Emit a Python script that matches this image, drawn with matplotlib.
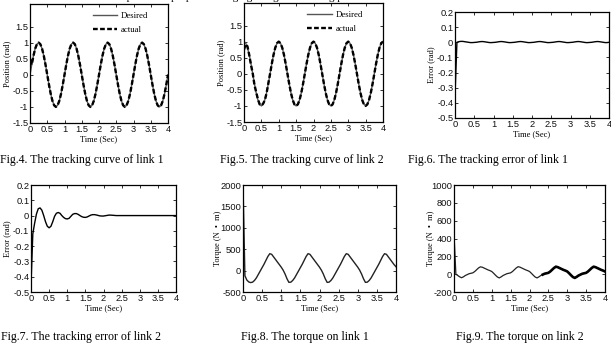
import numpy as np
import matplotlib
matplotlib.use("Agg")
import matplotlib.pyplot as plt

# ---------------- data ----------------
time = np.linspace(0, 4, 81)  # 0.05 s grid

desired1 = [0, 0.31, 0.59, 0.81, 0.95, 1.0, 0.95, 0.81, 0.59, 0.31,
            0, -0.31, -0.59, -0.81, -0.95, -1.0, -0.95, -0.81, -0.59, -0.31,
            0, 0.31, 0.59, 0.81, 0.95, 1.0, 0.95, 0.81, 0.59, 0.31,
            0, -0.31, -0.59, -0.81, -0.95, -1.0, -0.95, -0.81, -0.59, -0.31,
            0, 0.31, 0.59, 0.81, 0.95, 1.0, 0.95, 0.81, 0.59, 0.31,
            0, -0.31, -0.59, -0.81, -0.95, -1.0, -0.95, -0.81, -0.59, -0.31,
            0, 0.31, 0.59, 0.81, 0.95, 1.0, 0.95, 0.81, 0.59, 0.31,
            0, -0.31, -0.59, -0.81, -0.95, -1.0, -0.95, -0.81, -0.59, -0.31,
            0]
actual1 = [0.45, 0.31, 0.59, 0.81, 0.95, 1.0, 0.95, 0.81, 0.59, 0.31,
           0, -0.31, -0.59, -0.81, -0.95, -1.0, -0.95, -0.81, -0.59, -0.31,
           0, 0.31, 0.59, 0.81, 0.95, 1.0, 0.95, 0.81, 0.59, 0.31,
           0, -0.31, -0.59, -0.81, -0.95, -1.0, -0.95, -0.81, -0.59, -0.31,
           0, 0.31, 0.59, 0.81, 0.95, 1.0, 0.95, 0.81, 0.59, 0.31,
           0, -0.31, -0.59, -0.81, -0.95, -1.0, -0.95, -0.81, -0.59, -0.31,
           0, 0.31, 0.59, 0.81, 0.95, 1.0, 0.95, 0.81, 0.59, 0.31,
           0, -0.31, -0.59, -0.81, -0.95, -1.0, -0.95, -0.81, -0.59, -0.31,
           0]
desired2 = [1.0, 0.95, 0.81, 0.59, 0.31, 0, -0.31, -0.59, -0.81, -0.95,
            -1.0, -0.95, -0.81, -0.59, -0.31, 0, 0.31, 0.59, 0.81, 0.95,
            1.0, 0.95, 0.81, 0.59, 0.31, 0, -0.31, -0.59, -0.81, -0.95,
            -1.0, -0.95, -0.81, -0.59, -0.31, 0, 0.31, 0.59, 0.81, 0.95,
            1.0, 0.95, 0.81, 0.59, 0.31, 0, -0.31, -0.59, -0.81, -0.95,
            -1.0, -0.95, -0.81, -0.59, -0.31, 0, 0.31, 0.59, 0.81, 0.95,
            1.0, 0.95, 0.81, 0.59, 0.31, 0, -0.31, -0.59, -0.81, -0.95,
            -1.0, -0.95, -0.81, -0.59, -0.31, 0, 0.31, 0.59, 0.81, 0.95,
            1.0]
actual2 = [0.75, 0.92, 0.85, 0.59, 0.28, 0.02, -0.34, -0.57, -0.79, -0.95,
           -0.99, -0.93, -0.82, -0.60, -0.30, 0, 0.31, 0.59, 0.81, 0.95,
           1.0, 0.95, 0.81, 0.59, 0.31, 0, -0.31, -0.59, -0.81, -0.95,
           -1.0, -0.95, -0.81, -0.59, -0.31, 0, 0.31, 0.59, 0.81, 0.95,
           1.0, 0.95, 0.81, 0.59, 0.31, 0, -0.31, -0.59, -0.81, -0.95,
           -1.0, -0.95, -0.81, -0.59, -0.31, 0, 0.31, 0.59, 0.81, 0.95,
           1.0, 0.95, 0.81, 0.59, 0.31, 0, -0.31, -0.59, -0.81, -0.95,
           -1.0, -0.95, -0.81, -0.59, -0.31, 0, 0.31, 0.59, 0.81, 0.95,
           1.0]

error1 = [-0.35, 0.0, 0.004, 0.006, 0.006, 0.004, 0.002, 0.0, -0.002, -0.002,
          -0.001, 0.0, 0.002, 0.004, 0.005, 0.004, 0.002, 0.0, -0.002, -0.002,
          -0.001, 0.0, 0.002, 0.004, 0.005, 0.004, 0.002, 0.0, -0.002, -0.002,
          -0.001, 0.0, 0.002, 0.004, 0.005, 0.004, 0.002, 0.0, -0.002, -0.002,
          -0.001, 0.0, 0.002, 0.004, 0.005, 0.004, 0.002, 0.0, -0.002, -0.002,
          -0.001, 0.0, 0.002, 0.004, 0.005, 0.004, 0.002, 0.0, -0.002, -0.002,
          -0.001, 0.0, 0.002, 0.004, 0.005, 0.004, 0.002, 0.0, -0.002, -0.002,
          -0.001, 0.0, 0.002, 0.004, 0.005, 0.004, 0.002, 0.0, -0.002, -0.002,
          0.0]
error2 = [-0.45, -0.12, -0.05, 0.01, 0.045, 0.05, 0.035, 0.0, -0.04, -0.07,
          -0.08, -0.07, -0.04, -0.005, 0.015, 0.02, 0.015, 0.0, -0.012, -0.02,
          -0.022, -0.018, -0.005, 0.008, 0.013, 0.013, 0.008, 0.0, -0.007, -0.011,
          -0.012, -0.009, -0.003, 0.003, 0.006, 0.006, 0.004, 0.001, -0.002, -0.003,
          -0.003, -0.001, 0.001, 0.003, 0.003, 0.002, 0.001, 0.0, 0.0, 0.0,
          0.0, 0.0, 0.0, 0.0, 0.0, 0.0, 0.0, 0.0, 0.0, 0.0,
          0.0, 0.0, 0.0, 0.0, 0.0, 0.0, 0.0, 0.0, 0.0, 0.0,
          0.0, 0.0, 0.0, 0.0, 0.0, 0.0, 0.0, 0.0, 0.0, 0.0,
          0.0]

torque1 = [2000, -120, -220, -265, -280, -270, -230, -170, -90, -10,
           70, 150, 240, 330, 395, 380, 320, 260, 200, 140,
           80, 10, -80, -190, -275, -270, -230, -170, -90, -10,
           70, 150, 240, 330, 395, 380, 320, 260, 200, 140,
           80, 10, -80, -190, -275, -270, -230, -170, -90, -10,
           70, 150, 240, 330, 395, 380, 320, 260, 200, 140,
           80, 10, -80, -190, -275, -270, -230, -170, -90, -10,
           70, 150, 240, 330, 395, 380, 320, 260, 200, 140,
           90]
torque2 = [450, 0, -15, -30, -40, -30, -15, -5, 5, 10,
           15, 30, 50, 70, 82, 78, 68, 58, 48, 40,
           30, 10, -12, -32, -42, -30, -15, -5, 5, 10,
           15, 30, 50, 70, 84, 78, 68, 58, 48, 40,
           30, 10, -12, -32, -42, -30, -15, -5, 5, 10,
           15, 30, 50, 70, 84, 78, 68, 58, 48, 40,
           30, 10, -12, -32, -42, -30, -15, -5, 5, 10,
           15, 30, 50, 70, 84, 78, 68, 58, 48, 40,
           30]

xticks = [0, 0.5, 1, 1.5, 2, 2.5, 3, 3.5, 4]
xticklabels = ["0", "0.5", "1", "1.5", "2", "2.5", "3", "3.5", "4"]
pos_ticks = [-1.5, -1, -0.5, 0, 0.5, 1, 1.5]
pos_labels = ["-1.5", "-1", "-0.5", "0", "0.5", "1", "1.5"]
err_ticks = [-0.5, -0.4, -0.3, -0.2, -0.1, 0, 0.1, 0.2]
err_labels = ["-0.5", "-0.4", "-0.3", "-0.2", "-0.1", "0", "0.1", "0.2"]
tq1_ticks = [-500, 0, 500, 1000, 1500, 2000]
tq1_labels = ["-500", "0", "500", "1000", "1500", "2000"]
tq2_ticks = [-200, 0, 200, 400, 600, 800, 1000]
tq2_labels = ["-200", "0", "200", "400", "600", "800", "1000"]

captions = ["Fig.4. The tracking curve of link 1",
            "Fig.5. The tracking curve of link 2",
            "Fig.6. The tracking error of link 1",
            "Fig.7. The tracking error of link 2",
            "Fig.8. The torque on link 1",
            "Fig.9. The torque on link 2"]

# ---------------- figure ----------------
W, H = 611, 359
fig = plt.figure(figsize=(W / 100, H / 100), dpi=100)
SERIF = "Liberation Serif"
SANS = "Liberation Sans"


def add_ax(x0, y0, x1, y1):
    return fig.add_axes([x0 / W, 1 - y1 / H, (x1 - x0) / W, (y1 - y0) / H])


def style(ax, yticks, ylabels, ylim, ylabel, ylab_x):
    ax.set_xlim(0, 4)
    ax.set_ylim(*ylim)
    ax.set_xticks(xticks)
    ax.set_xticklabels(xticklabels, fontfamily=SANS, fontsize=6.7)
    ax.set_yticks(yticks)
    ax.set_yticklabels(ylabels, fontfamily=SANS, fontsize=6.7)
    ax.tick_params(direction="in", length=2.2, width=0.6, top=True, right=True,
                   pad=1.2, colors="#111111")
    for s in ax.spines.values():
        s.set_linewidth(0.9)
        s.set_color("black")
    ax.set_xlabel("Time (Sec)", fontfamily=SERIF, fontsize=6, labelpad=1)
    ax.set_ylabel(ylabel, fontfamily=SERIF, fontsize=6)
    ax.yaxis.set_label_coords(ylab_x, 0.5)


def add_legend(ax, x_anchor):
    ax.legend(loc="upper left", bbox_to_anchor=(x_anchor, 0.935), frameon=False,
              prop={"family": SERIF, "size": 6.3}, handlelength=2.8,
              borderaxespad=0, borderpad=0, labelspacing=0.7, handletextpad=0.45)


# Panel 1
ax1 = add_ax(30, 4, 168, 123)
ax1.plot(time, desired1, color="#555555", lw=1.0, label="Desired")
ax1.plot(time, actual1, color="black", lw=1.7, ls=(0, (2, 1)), label="actual")
style(ax1, pos_ticks, pos_labels, (-1.5, 2.2), "Position (rad)", -0.138)
add_legend(ax1, 0.455)

# Panel 2
ax2 = add_ax(244, 3, 383, 122)
ax2.plot(time, desired2, color="#555555", lw=1.0, label="Desired")
ax2.plot(time, actual2, color="black", lw=1.7, ls=(0, (2, 1)), label="actual")
style(ax2, pos_ticks, pos_labels, (-1.5, 2.2), "Position (rad)", -0.137)
add_legend(ax2, 0.455)

# Panel 3
ax3 = add_ax(455, 12, 609, 118)
ax3.plot(time, error1, color="black", lw=1.0)
style(ax3, err_ticks, err_labels, (-0.5, 0.2), "Error (rad)", -0.13)

# Panel 4
ax4 = add_ax(31, 185, 176, 292)
ax4.plot(time, error2, color="black", lw=1.0)
style(ax4, err_ticks, err_labels, (-0.5, 0.2), "Error (rad)", -0.138)

# Panel 5
ax5 = add_ax(243, 185, 396, 292)
ax5.plot(time, torque1, color="#222222", lw=1.0)
style(ax5, tq1_ticks, tq1_labels, (-500, 2000), "Torque (N  \u2022  m)", -0.137)

# Panel 6
ax6 = add_ax(454, 185, 605, 292)
ax6.plot(time, torque2, color="#222222", lw=0.9)
ax6.plot(time[47:], torque2[47:], color="black", lw=1.9)
style(ax6, tq2_ticks, tq2_labels, (-200, 1000), "Torque (N  \u2022  m)", -0.126)

# captions
cap_pos = [(82, 160), (302, 160), (488, 160), (81, 337), (305, 337), (520, 337)]
for (cx, cy), txt in zip(cap_pos, captions):
    fig.text(cx / W, 1 - cy / H, txt, ha="center", va="center",
             fontfamily=SERIF, fontsize=8.6)

# clipped text line from the page above
fig.text(45 / W, 1.0, "simulation results prove the proposed design gives good tracking performance",
         ha="left", va="baseline", fontfamily=SERIF, fontsize=8)

fig.savefig("out.png", dpi=100)
